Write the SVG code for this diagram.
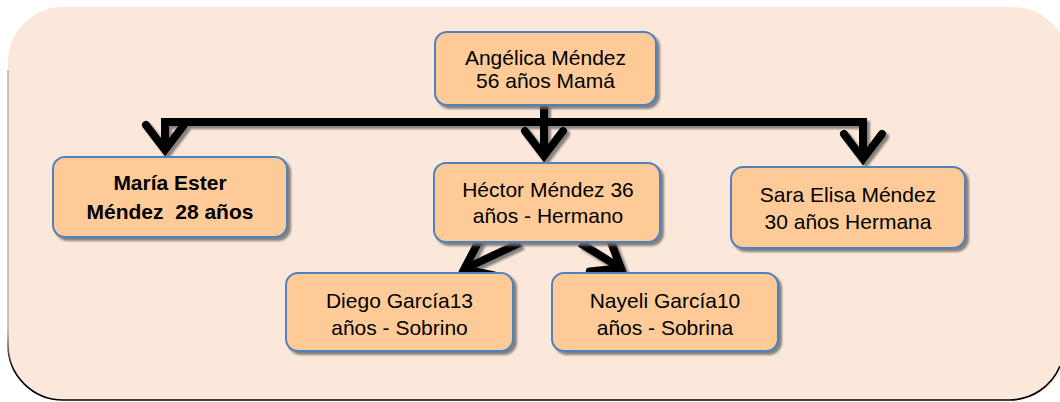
<svg xmlns="http://www.w3.org/2000/svg" width="1060" height="402" viewBox="0 0 1060 402">
<style>
.node rect{fill:#FECB98;stroke:#4F81BD;stroke-width:2}
.node text{font-family:"Liberation Sans",Arial,sans-serif;font-size:21px;fill:#000;text-anchor:middle}
.node text.b{font-weight:bold;white-space:pre}
.conn line,.conn path{stroke:#000;stroke-width:8;fill:none}
</style>
<defs>
<filter id="sh" x="-10%" y="-10%" width="130%" height="140%">
<feDropShadow dx="3" dy="3" stdDeviation="0.8" flood-color="#6f6f6f" flood-opacity="0.85"/>
</filter>
<linearGradient id="edge" gradientUnits="userSpaceOnUse" x1="0" y1="330" x2="0" y2="370">
<stop offset="0" stop-color="#c0b2a6"/>
<stop offset="1" stop-color="#000"/>
</linearGradient>
<marker id="ah" markerUnits="userSpaceOnUse" markerWidth="70" markerHeight="70" viewBox="-45 -35 70 70" refX="-8" refY="0" orient="auto" overflow="visible">
<path d="M-32,-19 L-7,0 L-32,19" fill="none" stroke="#000" stroke-width="8" stroke-linecap="round" stroke-linejoin="miter"/>
</marker>
</defs>
<g id="background">
<rect x="8" y="7" width="1060" height="393" rx="55" ry="55" fill="#FCE8DA"/>
<path d="M8,70 L8,345 A55,55 0 0 0 63,400 L1009,400 A55,55 0 0 0 1060,366" fill="none" stroke="url(#edge)" stroke-width="1.6"/>
</g>
<g id="connectors" class="conn" filter="url(#sh)">
<line x1="165" y1="122" x2="863" y2="122"/>
<line x1="544" y1="104" x2="544" y2="122"/>
<line x1="165" y1="118" x2="165" y2="149" marker-end="url(#ah)"/>
<line x1="544" y1="122" x2="544" y2="155" marker-end="url(#ah)"/>
<line x1="863" y1="118" x2="863" y2="158" marker-end="url(#ah)"/>
<line x1="520" y1="243" x2="465.2" y2="268.6" marker-end="url(#ah)"/>
<line x1="580" y1="243" x2="620.2" y2="267.8" marker-end="url(#ah)"/>
</g>
<g id="n-angelica" class="node">
<rect x="435" y="32" width="221" height="73" rx="12" filter="url(#sh)"/>
<text x="545.5" y="65">Angélica Méndez</text>
<text x="545.5" y="88">56 años Mamá</text>
</g>
<g id="n-maria" class="node">
<rect x="53" y="157" width="234" height="80" rx="12" filter="url(#sh)"/>
<text class="b" x="170" y="190">María Ester</text>
<text class="b" x="170" y="219">Méndez  28 años</text>
</g>
<g id="n-hector" class="node">
<rect x="434" y="163" width="226" height="79" rx="12" filter="url(#sh)"/>
<text x="548" y="197">Héctor Méndez 36</text>
<text x="548" y="223">años - Hermano</text>
</g>
<g id="n-sara" class="node">
<rect x="731" y="167" width="234" height="81" rx="12" filter="url(#sh)"/>
<text x="848" y="202">Sara Elisa Méndez</text>
<text x="848" y="229">30 años Hermana</text>
</g>
<g id="n-diego" class="node">
<rect x="286" y="273" width="227" height="78" rx="12" filter="url(#sh)"/>
<text x="399.5" y="308">Diego García13</text>
<text x="399.5" y="335">años - Sobrino</text>
</g>
<g id="n-nayeli" class="node">
<rect x="552" y="273" width="226" height="78" rx="12" filter="url(#sh)"/>
<text x="665" y="308">Nayeli García10</text>
<text x="665" y="335">años - Sobrina</text>
</g>
</svg>
